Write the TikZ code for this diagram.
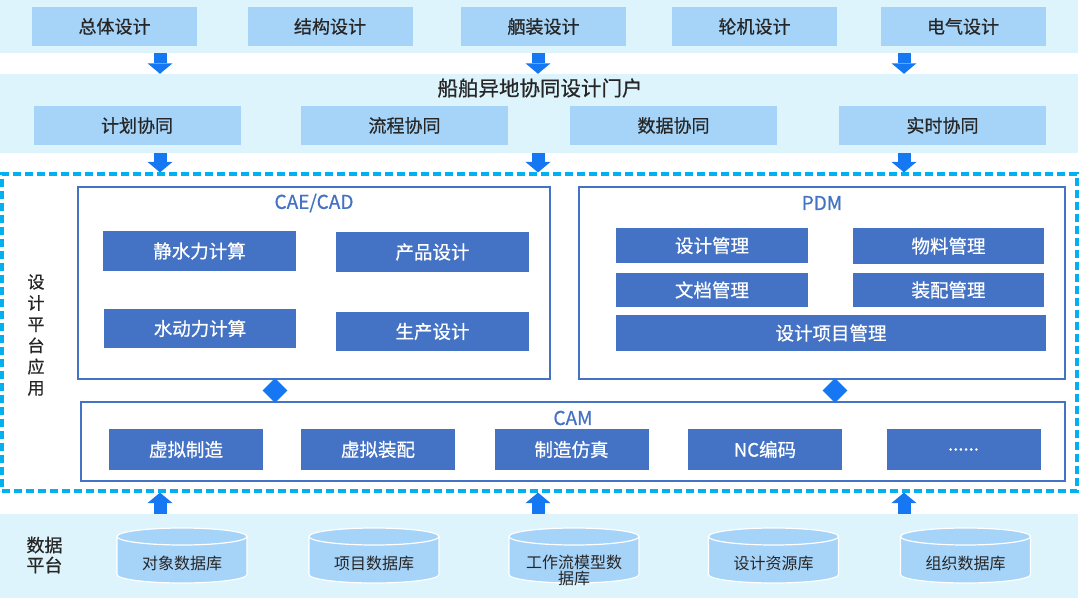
\documentclass[tikz,border=0pt]{standalone}
\usepackage{fontspec}
\setmainfont{Noto Sans CJK SC}
\newfontfamily\medfont[FakeBold=0.7]{Noto Sans CJK SC}
\usetikzlibrary{arrows.meta,shapes.geometric}
\definecolor{bandc}{HTML}{DDF4FD}
\definecolor{lightc}{HTML}{A6D3F8}
\definecolor{darkc}{HTML}{4472C4}
\definecolor{arrowc}{HTML}{1677F2}
\definecolor{dashc}{HTML}{00B0F0}
\definecolor{txtc}{HTML}{262626}
\begin{document}
\begin{tikzpicture}[x=1pt,y=-1pt,
  band/.style={fill=bandc, draw=none, inner sep=0},
  lightbox/.style={fill=lightc, draw=none, text=txtc, font=\medfont\fontsize{18}{20}\selectfont, inner sep=0},
  darkbox/.style={fill=darkc, draw=none, text=white, font=\medfont\fontsize{18.5}{20}\selectfont, inner sep=0},
  groupbox/.style={draw=darkc, line width=1.2pt, fill=white, inner sep=0},
  gtitle/.style={text=darkc, font=\medfont\fontsize{19}{21}\selectfont, inner sep=0},
  platbox/.style={draw=dashc, line width=3.2pt, dash pattern=on 8pt off 4pt, inner sep=0},
  bigarrow/.style={draw=arrowc, line width=13pt, -{Triangle[width=25pt,length=10.5pt,line width=0pt]}},
  diam/.style={diamond, fill=arrowc, draw=none, inner sep=0, minimum width=25pt, minimum height=25pt},
  sidelabel/.style={text=txtc, align=center, inner sep=0},
  cyltext/.style={text=txtc, font=\fontsize{16}{16}\selectfont, inner sep=0, align=center},
  cylnode/.style={minimum width=134pt, minimum height=59pt, inner sep=0,
    path picture={
      \path[fill=lightc, draw=white, line width=1.2pt]
        ([xshift=2pt,yshift=-10.5pt]path picture bounding box.north west)
        -- ([xshift=2pt,yshift=10.5pt]path picture bounding box.south west)
        arc[start angle=180,end angle=360,x radius=65pt,y radius=8.5pt]
        -- ([xshift=-2pt,yshift=-10.5pt]path picture bounding box.north east)
        arc[start angle=0,end angle=180,x radius=65pt,y radius=8.5pt]
        -- cycle;
      \draw[white, line width=1.2pt]
        ([xshift=2pt,yshift=-10.5pt]path picture bounding box.north west)
        arc[start angle=180,end angle=360,x radius=65pt,y radius=8.5pt];
    }}
]
\useasboundingbox (0,0) rectangle (1080,598);

% bands
\node[band, minimum width=1078pt, minimum height=53pt] (topband) at (539,26.5) {};
\node[band, minimum width=1078pt, minimum height=79pt] (portal) at (539,113.5) {};
\node[band, minimum width=1078pt, minimum height=84pt] (databand) at (539,556) {};

% top design boxes
\node[lightbox, minimum width=165pt, minimum height=39pt] (t1) at (114.5,26.5) {总体设计};
\node[lightbox, minimum width=165pt, minimum height=39pt] (t2) at (330,26.5) {结构设计};
\node[lightbox, minimum width=165pt, minimum height=39pt] (t3) at (543.5,26.5) {舾装设计};
\node[lightbox, minimum width=165pt, minimum height=39pt] (t4) at (754.5,26.5) {轮机设计};
\node[lightbox, minimum width=165pt, minimum height=39pt] (t5) at (963,26.5) {电气设计};

% portal
\node[text=txtc, font=\medfont\fontsize{20.5}{22}\selectfont, inner sep=0] (ptitle) at (540,88) {船舶异地协同设计门户};
\node[lightbox, minimum width=207pt, minimum height=39pt] (p1) at (137,125.5) {计划协同};
\node[lightbox, minimum width=207pt, minimum height=39pt] (p2) at (404.5,125.5) {流程协同};
\node[lightbox, minimum width=207pt, minimum height=39pt] (p3) at (673.5,125.5) {数据协同};
\node[lightbox, minimum width=207pt, minimum height=39pt] (p4) at (942.5,125.5) {实时协同};

% platform
\node[platbox, minimum width=1075pt, minimum height=317pt] (platform) at (539.5,332.5) {};
\node[sidelabel, font=\medfont\fontsize{17}{21.2}\selectfont] (platlabel) at (36,335) {设\\计\\平\\台\\应\\用};

% CAE/CAD
\node[groupbox, minimum width=472pt, minimum height=192pt] (cae) at (314,283) {};
\node[gtitle] (caetitle) at (314,203) {CAE/CAD};
\node[darkbox, minimum width=193pt, minimum height=40pt] (c1) at (199.5,251) {静水力计算};
\node[darkbox, minimum width=193pt, minimum height=40pt] (c2) at (432.5,252) {产品设计};
\node[darkbox, minimum width=192pt, minimum height=39pt] (c3) at (200,328.5) {水动力计算};
\node[darkbox, minimum width=193pt, minimum height=39pt] (c4) at (432.5,331.5) {生产设计};

% PDM
\node[groupbox, minimum width=486pt, minimum height=192pt] (pdm) at (822,283) {};
\node[gtitle] (pdmtitle) at (822,203) {PDM};
\node[darkbox, minimum width=192pt, minimum height=35pt] (m1) at (712,245.5) {设计管理};
\node[darkbox, minimum width=191pt, minimum height=36pt] (m2) at (948.5,246) {物料管理};
\node[darkbox, minimum width=192pt, minimum height=34pt] (m3) at (712,290) {文档管理};
\node[darkbox, minimum width=191pt, minimum height=34pt] (m4) at (948.5,290) {装配管理};
\node[darkbox, minimum width=430pt, minimum height=36pt] (m5) at (831,333) {设计项目管理};

% CAM
\node[groupbox, minimum width=984pt, minimum height=79pt] (cam) at (573,441.5) {};
\node[gtitle] (camtitle) at (573,418) {CAM};
\node[darkbox, minimum width=154pt, minimum height=41pt] (a1) at (186,449.5) {虚拟制造};
\node[darkbox, minimum width=154pt, minimum height=41pt] (a2) at (378,449.5) {虚拟装配};
\node[darkbox, minimum width=154pt, minimum height=41pt] (a3) at (571.5,449.5) {制造仿真};
\node[darkbox, minimum width=154pt, minimum height=41pt] (a4) at (765,449.5) {NC编码};
\node[darkbox, minimum width=154pt, minimum height=41pt] (a5) at (963.5,449.5) {......};

% diamonds between groups and CAM
\node[diam] (d1) at (275,390.5) {};
\node[diam] (d2) at (835,390.5) {};

% data platform
\node[sidelabel, font=\medfont\fontsize{18}{20}\selectfont] (datalabel) at (44.5,555) {数据\\平台};
\node[cylnode] (db1) at (182,555.5) {};
\node[cylnode] (db2) at (374,555.5) {};
\node[cylnode] (db3) at (574,555.5) {};
\node[cylnode] (db4) at (773.5,555.5) {};
\node[cylnode] (db5) at (965.5,555.5) {};
\node[cyltext] (db1t) at ([yshift=-7.5pt]db1.center) {对象数据库};
\node[cyltext] (db2t) at ([yshift=-7.5pt]db2.center) {项目数据库};
\node[cyltext] (db3t) at ([yshift=-14.5pt]db3.center) {工作流模型数\\据库};
\node[cyltext] (db4t) at ([yshift=-7.5pt]db4.center) {设计资源库};
\node[cyltext] (db5t) at ([yshift=-7.5pt]db5.center) {组织数据库};

% arrows
\coordinate (x1) at (160,0);
\coordinate (x2) at (538,0);
\coordinate (x3) at (904,0);
\foreach \c in {x1,x2,x3}{
  \draw[bigarrow] (topband.south -| \c) -- (portal.north -| \c);
  \draw[bigarrow] (portal.south -| \c) -- (platform.north -| \c);
  \draw[bigarrow] (databand.north -| \c) -- (platform.south -| \c);
}
\end{tikzpicture}
\end{document}
